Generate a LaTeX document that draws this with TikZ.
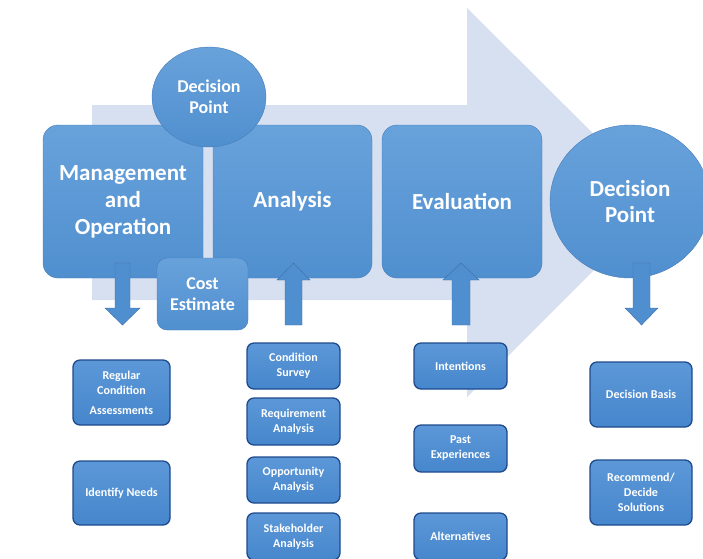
\documentclass[tikz,border=0pt]{standalone}
\usepackage{fontspec}
\setmainfont{Carlito}
\usepackage{tikz}
\usetikzlibrary{shapes.geometric}

\definecolor{bgblue}{RGB}{214,224,240}
\definecolor{boxtop}{RGB}{104,162,219}
\definecolor{boxbot}{RGB}{80,143,207}
\definecolor{boxline}{RGB}{72,124,186}
\definecolor{smalltop}{RGB}{92,152,216}
\definecolor{smallfill}{RGB}{70,134,204}
\definecolor{smallline}{RGB}{30,74,140}
\definecolor{arrline}{RGB}{62,110,168}

\tikzset{
  mainbox/.style={rounded corners=15pt, draw=boxline, thin, top color=boxtop, bottom color=boxbot,
                  text=white, font=\fontsize{23}{27}\selectfont\bfseries, align=center, inner sep=0pt},
  decision/.style={ellipse, draw=boxline, thin, top color=boxtop, bottom color=boxbot,
                   text=white, align=center, inner sep=0pt},
  smallbox/.style={rounded corners=7pt, draw=smallline, line width=1.3pt, top color=smalltop, bottom color=smallfill,
                   text=white, font=\fontsize{12}{15}\selectfont\bfseries, align=center, inner sep=0pt},
  blockarrow/.style={draw=arrline, thin, fill=boxbot}
}

\begin{document}
\begin{tikzpicture}[x=1pt,y=-1pt]
     \useasboundingbox (0,0) rectangle (703,558);
     \clip (0,0) rectangle (703,558);

     % big arrow behind
     \fill[bgblue] (92,105) -- (467,105) -- (467,8) -- (662,202) -- (467,397) -- (467,300) -- (92,300) -- cycle;

     \node[mainbox, minimum width=160pt, minimum height=153pt] (mgmt) at (123,201.5) {Management\\and\\Operation};
     \node[mainbox, minimum width=159pt, minimum height=153pt] (analysis) at (292.5,201.5) {Analysis};
     \node[mainbox, minimum width=160pt, minimum height=153pt] (eval) at (462,201.5) {Evaluation};

     \node[decision, minimum width=114pt, minimum height=100pt, font=\fontsize{18}{21}\selectfont\bfseries] (dp1) at (209,97) {Decision\\Point};
     \node[decision, minimum width=160pt, minimum height=153pt, font=\fontsize{23}{26}\selectfont\bfseries] (dp2) at (630,201.5) {Decision\\Point};
     \node[mainbox, rounded corners=10pt, minimum width=91pt, minimum height=72pt, font=\fontsize{18}{21}\selectfont\bfseries] (cost) at (202.5,294) {Cost\\Estimate};

     % block arrows
     \filldraw[blockarrow] (115,263) -- (130,263) -- (130,308) -- (140,308) -- (122.5,325) -- (105,308) -- (115,308) -- cycle;
     \filldraw[blockarrow] (285,325) -- (302,325) -- (302,280) -- (310,280) -- (293.5,263) -- (277,280) -- (285,280) -- cycle;
     \filldraw[blockarrow] (452,325) -- (470,325) -- (470,280) -- (479,280) -- (461,263) -- (443,280) -- (452,280) -- cycle;
     \filldraw[blockarrow] (633,263) -- (650,263) -- (650,308) -- (658,308) -- (641.5,325) -- (625,308) -- (633,308) -- cycle;

     % lower boxes
     \node[smallbox, minimum width=97pt, minimum height=65pt] (regular) at (121.5,392.5) {Regular\\Condition\\[5pt]Assessments};
     \node[smallbox, minimum width=97pt, minimum height=64pt] (needs) at (121.5,493) {Identify Needs};

     \node[smallbox, minimum width=93pt, minimum height=46pt] (survey) at (293.5,366) {Condition\\Survey};
     \node[smallbox, minimum width=93pt, minimum height=47pt] (require) at (293.5,421.5) {Requirement\\Analysis};
     \node[smallbox, minimum width=93pt, minimum height=46pt] (oppor) at (293.5,480) {Opportunity\\Analysis};
     \node[smallbox, minimum width=93pt, minimum height=47pt] (stake) at (293.5,536.5) {Stakeholder\\Analysis};

     \node[smallbox, minimum width=93pt, minimum height=46pt] (intent) at (460.5,366) {Intentions};
     \node[smallbox, minimum width=93pt, minimum height=47pt] (past) at (460.5,448.5) {Past\\Experiences};
     \node[smallbox, minimum width=93pt, minimum height=47pt] (altern) at (460.5,536.5) {Alternatives};

     \node[smallbox, minimum width=102pt, minimum height=65pt] (basis) at (641,394.5) {Decision Basis};
     \node[smallbox, minimum width=102pt, minimum height=65pt] (recomm) at (641,492.5) {Recommend/\\Decide\\Solutions};
\end{tikzpicture}
\end{document}
